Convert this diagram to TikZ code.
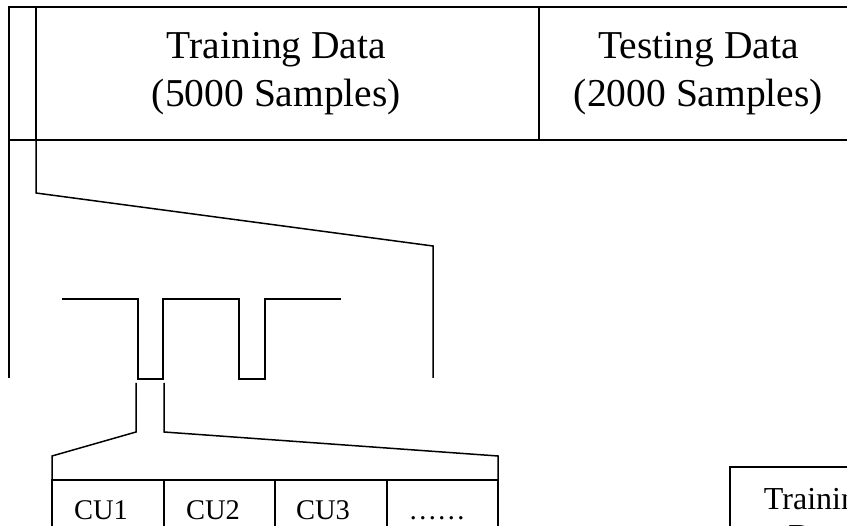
\documentclass[tikz,border=0pt]{standalone}
\usepackage{fontspec}
\setmainfont{Liberation Serif}
\tikzset{
  rule/.style={line width=1.5pt, line join=miter},
  cell/.style={rule, draw, rectangle, inner sep=0pt, outer sep=0pt},
  bigtext/.style={align=center, inner sep=0pt, font=\fontsize{39.5}{48}\selectfont},
  midtext/.style={align=center, inner sep=0pt, font=\fontsize{32}{37}\selectfont},
  cutext/.style={inner sep=0pt, anchor=base, font=\fontsize{28.5}{34}\selectfont},
}
\begin{document}
\begin{tikzpicture}[x=1pt, y=-1pt]
\useasboundingbox (0,0) rectangle (847,526);
\clip (0,0) rectangle (847,526);

% top strip: narrow cell, training cell, testing cell
\node[cell, minimum width=27, minimum height=133] (lead) at (22.5,73.5) {};
\node[cell, minimum width=503, minimum height=133] (train) at (287.5,73.5) {};
\node[cell, minimum width=330, minimum height=133] (test) at (704,73.5) {};
\node[bigtext] (trainlbl) at (276.5,73.5) {Training Data\\(5000 Samples)};
\node[bigtext] (testlbl) at (698.5,73.5) {Testing Data\\(2000 Samples)};

% zoom bracket from the training block down to the signal
\coordinate (zl) at (9,378);
\coordinate (zr) at (433,378);
\draw[rule] (lead.south west) -- (zl);
\draw[rule] (train.south west) -- ++(0,53) -- (433,246) -- (zr);

% square-wave signal
\coordinate (w0) at (62,299);
\coordinate (w1) at (341,299);
\draw[rule] (w0) -- (138,299) -- (138,379) -- (163,379) -- (163,299)
  -- (239,299) -- (239,379) -- (265,379) -- (265,299) -- (w1);

% CU row
\node[cell, minimum width=112, minimum height=80, anchor=north west] (cu1) at (52,480) {};
\node[cell, minimum width=111, minimum height=80, anchor=north west] (cu2) at (cu1.north east) {};
\node[cell, minimum width=112, minimum height=80, anchor=north west] (cu3) at (cu2.north east) {};
\node[cell, minimum width=111, minimum height=80, anchor=north west] (cu4) at (cu3.north east) {};
\node[cutext] (t1) at (101,520) {CU1};
\node[cutext] (t2) at (213,520) {CU2};
\node[cutext] (t3) at (323,520) {CU3};
\node[cutext] (t4) at (437,520) {……};

% zoom bracket from the first pulse to the CU row
\draw[rule] (136,383) -- (136,432) -- ([yshift=24pt]cu1.north west) -- (cu1.north west);
\draw[rule] (164,383) -- (164,432) -- ([yshift=24pt]cu4.north east) -- (cu4.north east);

% training data box at the lower right
\node[cell, minimum width=180, minimum height=110, anchor=north west] (tbox) at (730,467) {};
\node[midtext] (tboxlbl) at (818.5,517.5) {Training\\Data};
\end{tikzpicture}
\end{document}
